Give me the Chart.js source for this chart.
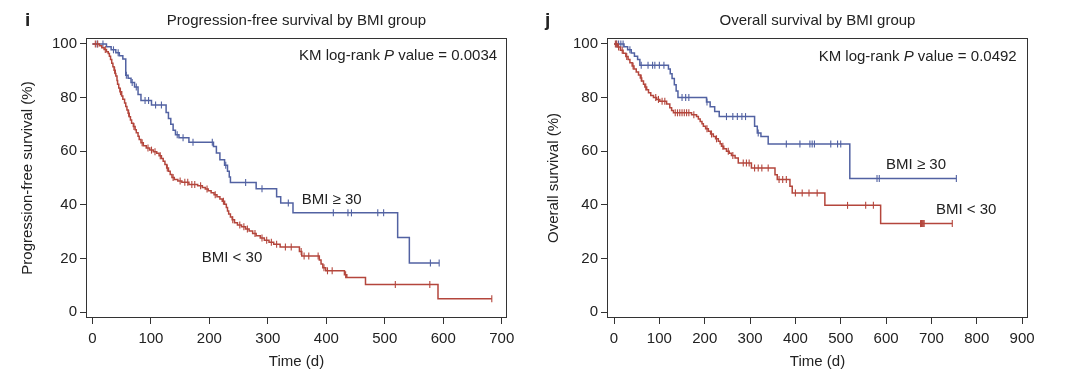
<!DOCTYPE html>
<html lang="en">
<head>
<meta charset="UTF-8" />
<title>Survival by BMI group</title>
<script src="https://cdn.jsdelivr.net/npm/chart.js"></script>
<style>
  body { margin: 0; background: #fff; }
  .row { display: flex; width: 1080px; height: 377px; }
  canvas { display: block; }
</style>
</head>
<body>
<div class="row">
  <canvas id="pfsChart" width="540" height="377"></canvas>
  <canvas id="osChart" width="540" height="377"></canvas>
</div>
<script>
// ---- data (time in days, survival in %) ----
const pfsTicksX = [0, 100, 200, 300, 400, 500, 600, 700];
const osTicksX = [0, 100, 200, 300, 400, 500, 600, 700, 800, 900];
const survTicksY = [0, 20, 40, 60, 80, 100];

// PFS, BMI >= 30
const pfsHighT = [0, 24, 32, 40, 46, 52, 57, 61, 66, 72, 78, 83, 101, 126, 130, 134, 138, 142, 148, 165, 207, 212, 218, 226, 231, 234, 236, 280, 315, 322, 343, 522, 542, 593];
const pfsHighS = [100, 98.9, 97.8, 96.7, 95.6, 94.4, 88.3, 87.2, 85.6, 83.9, 81.1, 78.9, 77.2, 74.4, 72.2, 70.0, 67.8, 66.1, 65.0, 63.3, 61.7, 59.3, 56.8, 54.8, 52.5, 50.4, 48.3, 46.0, 43.0, 40.7, 37.0, 27.8, 18.3, 18.3];
const pfsHighCens = [8, 18, 36, 44, 58, 68, 75, 90, 96, 108, 118, 145, 155, 172, 205, 228, 262, 290, 335, 412, 437, 443, 488, 498, 578, 593];

// PFS, BMI < 30
const pfsLowT = [0, 12, 16, 20, 24, 27, 29, 31, 33, 35, 37, 39, 40, 42, 43, 45, 47, 50, 52, 55, 57, 59, 61, 63, 65, 67, 70, 73, 75, 78, 80, 83, 87, 92, 98, 104, 110, 114, 118, 121, 124, 127, 130, 133, 136, 140, 146, 153, 165, 180, 188, 193, 198, 203, 208, 213, 218, 222, 226, 229, 231, 233, 236, 239, 243, 248, 255, 262, 268, 274, 280, 287, 294, 302, 310, 321, 354, 358, 388, 391, 394, 399, 431, 435, 467, 591, 683];
const pfsLowS = [100, 99.3, 98.6, 97.9, 97.1, 96.4, 95.4, 94.2, 92.8, 91.5, 90.2, 89.0, 88.0, 86.4, 85.0, 83.6, 82.2, 80.6, 79.4, 78.0, 76.7, 75.4, 74.1, 72.8, 71.6, 70.4, 69.2, 68.0, 66.9, 65.6, 64.4, 63.1, 62.0, 61.2, 60.4, 59.8, 59.2, 58.3, 57.3, 56.2, 55.0, 53.7, 52.5, 51.3, 50.2, 49.4, 48.9, 48.4, 47.6, 47.1, 46.5, 45.9, 45.2, 44.5, 43.8, 43.0, 42.2, 41.3, 40.2, 39.0, 37.7, 36.6, 35.5, 34.4, 33.3, 32.5, 31.8, 31.0, 30.2, 29.3, 28.5, 27.6, 26.8, 26.0, 25.3, 24.3, 22.6, 20.9, 19.4, 17.9, 16.5, 15.4, 13.9, 12.9, 10.3, 5.0, 5.0];
const pfsLowCens = [5, 9, 22, 38, 48, 62, 71, 85, 95, 101, 107, 116, 128, 138, 150, 158, 163, 170, 175, 185, 196, 210, 224, 240, 252, 259, 265, 278, 290, 298, 306, 315, 330, 340, 357, 362, 370, 386, 396, 402, 410, 433, 518, 577, 683];

// OS, BMI >= 30
const osHighT = [0, 22, 30, 38, 45, 52, 57, 120, 124, 128, 133, 137, 141, 204, 212, 222, 232, 310, 316, 324, 340, 520, 755];
const osHighS = [100, 98.9, 97.8, 96.6, 95.4, 94.2, 92.0, 90.6, 88.9, 87.1, 84.8, 82.4, 80.0, 78.3, 76.6, 74.8, 72.9, 69.3, 66.8, 65.5, 62.7, 49.8, 49.8];
const osHighCens = [5, 10, 15, 20, 35, 60, 75, 85, 90, 100, 110, 150, 158, 165, 205, 248, 262, 272, 282, 290, 318, 380, 410, 432, 437, 442, 478, 493, 500, 580, 585, 755];

// OS, BMI < 30
const osLowT = [0, 8, 14, 20, 26, 31, 35, 40, 44, 49, 54, 58, 61, 65, 68, 72, 76, 81, 87, 94, 101, 116, 123, 127, 131, 171, 182, 186, 190, 194, 197, 202, 208, 213, 219, 224, 230, 234, 237, 242, 248, 254, 259, 267, 274, 303, 355, 360, 388, 393, 465, 588, 746];
const osLowS = [100, 98.8, 97.6, 96.5, 95.3, 94.2, 93.0, 91.8, 90.6, 89.5, 88.4, 87.3, 86.2, 85.0, 83.9, 82.9, 81.8, 80.8, 80.0, 79.3, 78.6, 77.6, 76.2, 75.2, 74.3, 73.6, 72.9, 72.0, 71.1, 70.2, 69.3, 68.4, 67.4, 66.4, 65.5, 64.6, 63.7, 62.8, 61.8, 60.9, 60.0, 59.2, 58.4, 57.5, 55.6, 53.7, 51.2, 49.4, 46.9, 44.4, 39.8, 33.0, 33.0];
const osLowCens = [3, 6, 10, 18, 28, 42, 60, 70, 92, 98, 106, 112, 135, 140, 145, 150, 155, 160, 165, 176, 205, 215, 226, 240, 252, 262, 285, 292, 298, 310, 318, 326, 340, 364, 372, 380, 400, 415, 430, 448, 515, 555, 572, 676, 678, 680, 682, 684, 746];

const BLUE = "#5262a2";
const RED = "#b4463c";
const INK = "#222";
const FONT = "'Liberation Sans', Arial, sans-serif";

Chart.defaults.font.family = FONT;
Chart.defaults.color = INK;

function survivalAt(times, surv, t) {
  let s = surv[0];
  for (let i = 0; i < times.length; i++) {
    if (times[i] <= t) s = surv[i];
    else break;
  }
  return s;
}

function kmSets(times, surv, cens, color) {
  return [
    {
      data: times.map((t, i) => ({ x: t, y: surv[i] })),
      borderColor: color,
      borderWidth: 1.5,
      stepped: "before",
      pointRadius: 0,
      fill: false,
    },
    {
      data: cens.map((t) => ({ x: t, y: survivalAt(times, surv, t) })),
      showLine: false,
      pointStyle: "line",
      pointRotation: 90,
      pointRadius: 3.5,
      pointBorderWidth: 1.1,
      pointBorderColor: color,
      borderColor: color,
    },
  ];
}

// box, titles and in-plot labels
const panelText = {
  id: "panelText",
  afterDraw(chart, args, opts) {
    const { ctx, chartArea, scales } = chart;
    const x = scales.x, y = scales.y;
    ctx.save();
    ctx.strokeStyle = "#333";
    ctx.lineWidth = 1;
    ctx.strokeRect(chartArea.left + 0.5, chartArea.top + 0.5, chartArea.width - 1, chartArea.height - 1);

    ctx.fillStyle = INK;
    ctx.textBaseline = "middle";

    ctx.font = "bold 19px " + FONT;
    ctx.textAlign = "left";
    ctx.fillText(opts.letter, opts.letterX, 21);

    ctx.font = "15px " + FONT;
    ctx.textAlign = "center";
    ctx.fillText(opts.title, (chartArea.left + chartArea.right) / 2, 21);

    // KM log-rank P value line, with italic P
    const parts = [["KM log-rank ", "15px "], ["P", "italic 15px "], [" value = " + opts.pValue, "15px "]];
    let total = 0;
    parts.forEach((p) => { ctx.font = p[1] + FONT; total += ctx.measureText(p[0]).width; });
    let px = x.getPixelForValue(opts.pAt[0]) - total;
    const py = y.getPixelForValue(opts.pAt[1]);
    ctx.textAlign = "left";
    parts.forEach((p) => {
      ctx.font = p[1] + FONT;
      ctx.fillText(p[0], px, py);
      px += ctx.measureText(p[0]).width;
    });

    ctx.font = "15px " + FONT;
    opts.labels.forEach((l) => {
      ctx.fillText(l.text, x.getPixelForValue(l.at[0]), y.getPixelForValue(l.at[1]));
    });
    ctx.restore();
  },
};

function makePanel(id, cfg) {
  const tickFont = { size: 15 };
  new Chart(document.getElementById(id), {
    type: "line",
    data: {
      datasets: [
        ...kmSets(cfg.lowT, cfg.lowS, cfg.lowCens, RED),
        ...kmSets(cfg.highT, cfg.highS, cfg.highCens, BLUE),
      ],
    },
    options: {
      responsive: false,
      animation: false,
      events: [],
      layout: { padding: { left: 0, top: 38, right: cfg.padRight, bottom: 0 } },
      plugins: {
        legend: { display: false },
        tooltip: { enabled: false },
        panelText: cfg.text,
      },
      scales: {
        x: {
          type: "linear",
          min: cfg.xMin,
          max: cfg.xMax,
          afterBuildTicks: (s) => { s.ticks = cfg.xTicks.map((v) => ({ value: v })); },
          afterFit: (s) => { s.height = 59; },
          ticks: { font: tickFont, color: INK, padding: 6, maxRotation: 0 },
          grid: { drawOnChartArea: false, tickLength: 6, color: "#333" },
          border: { display: false },
          title: { display: true, text: "Time (d)", font: { size: 15 }, color: INK, padding: { top: 0, bottom: 6 } },
        },
        y: {
          min: -2.2,
          max: 102.2,
          afterBuildTicks: (s) => { s.ticks = survTicksY.map((v) => ({ value: v })); },
          afterFit: (s) => { s.width = cfg.yWidth; },
          ticks: { font: tickFont, color: INK, padding: 3 },
          grid: { drawOnChartArea: false, tickLength: 6, color: "#333" },
          border: { display: false },
          title: { display: true, text: cfg.yTitle, font: { size: 15 }, color: INK, padding: { top: cfg.yTitlePad, bottom: 0 } },
        },
      },
    },
    plugins: [panelText],
  });
}

makePanel("pfsChart", {
  highT: pfsHighT, highS: pfsHighS, highCens: pfsHighCens,
  lowT: pfsLowT, lowS: pfsLowS, lowCens: pfsLowCens,
  xMin: -11, xMax: 709, xTicks: pfsTicksX,
  yWidth: 86, padRight: 33, yTitlePad: 19,
  yTitle: "Progression-free survival (%)",
  text: {
    letter: "i", letterX: 25,
    title: "Progression-free survival by BMI group",
    pValue: "0.0034", pAt: [692, 95.6],
    labels: [
      { text: "BMI \u2265 30", at: [358, 41.8] },
      { text: "BMI < 30", at: [187, 20.3] },
    ],
  },
});

makePanel("osChart", {
  highT: osHighT, highS: osHighS, highCens: osHighCens,
  lowT: osLowT, lowS: osLowS, lowCens: osLowCens,
  xMin: -15.5, xMax: 913, xTicks: osTicksX,
  yWidth: 67, padRight: 52, yTitlePad: 5,
  yTitle: "Overall survival (%)",
  text: {
    letter: "j", letterX: 5,
    title: "Overall survival by BMI group",
    pValue: "0.0492", pAt: [888, 95.0],
    labels: [
      { text: "BMI \u2265 30", at: [600, 54.9] },
      { text: "BMI < 30", at: [710, 38] },
    ],
  },
});
</script>
</body>
</html>
